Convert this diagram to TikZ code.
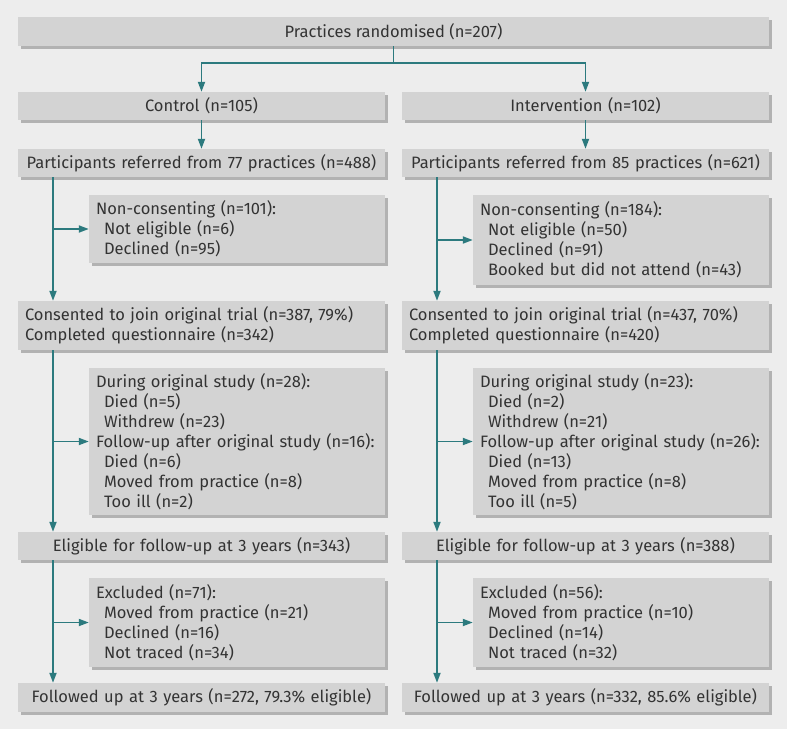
\documentclass[tikz,border=0pt]{standalone}
\usepackage{fontspec}
\setmainfont{Fira Sans}
\usetikzlibrary{arrows.meta,shadows}
\definecolor{bmjbg}{RGB}{237,237,237}
\definecolor{bmjbox}{RGB}{211,211,211}
\definecolor{bmjshade}{RGB}{178,178,178}
\definecolor{bmjteal}{RGB}{44,122,126}
\definecolor{bmjtext}{RGB}{51,51,51}
\newcommand{\ind}{\hspace*{8pt}}

\begin{document}
\begin{tikzpicture}[x=1pt,y=-1pt]
  \tikzstyle{box}=[fill=bmjbox,inner xsep=7pt,inner ysep=0pt,text=bmjtext,
    font=\fontsize{16.5}{20}\selectfont,
    drop shadow={fill=bmjshade,opacity=1,shadow xshift=2.5pt,shadow yshift=-2.5pt}]
  \tikzstyle{wide}=[box,minimum width=367pt,text width=353pt]
  \tikzstyle{side}=[box,minimum width=296pt,text width=282pt,align=left]
  \tikzstyle{f}=[-{Triangle[length=10pt,width=7pt]},bmjteal,line width=1.8pt]
  \tikzstyle{ln}=[bmjteal,line width=1.8pt]

  \fill[bmjbg] (0,0) rectangle (787,729);

  % -- randomisation --
  \node[box,minimum width=751pt,minimum height=29pt,align=center] (rand) at (393.5,31.5)
    {Practices randomised (n=207)};
  \coordinate (split) at (393.5,63);
  \draw[ln] (rand) -- (split);

  % -- Control arm --
  \node[wide,minimum height=28pt,align=center] (ctrl) at (201.5,106) {Control (n=105)};
  \node[wide,minimum height=28pt,align=center] (refC) at (201.5,163)
    {Participants referred from 77 practices (n=488)};
  \node[side,minimum height=68pt] (ncC) at (237,229)
    {Non-consenting (n=101):\\ \ind Not eligible (n=6)\\ \ind Declined (n=95)};
  \node[wide,minimum height=49pt,align=left] (conC) at (201.5,325.5)
    {Consented to join original trial (n=387, 79\%)\\ Completed questionnaire (n=342)};
  \node[side,minimum height=147pt] (durC) at (237,441.5)
    {During original study (n=28):\\ \ind Died (n=5)\\ \ind Withdrew (n=23)\\
     Follow-up after original study (n=16):\\ \ind Died (n=6)\\
     \ind Moved from practice (n=8)\\ \ind Too ill (n=2)};
  \node[wide,minimum height=28pt,align=center] (eliC) at (201.5,546)
    {Eligible for follow-up at 3 years (n=343)};
  \node[side,minimum height=89pt] (exC) at (237,622.5)
    {Excluded (n=71):\\ \ind Moved from practice (n=21)\\ \ind Declined (n=16)\\
     \ind Not traced (n=34)};
  \node[wide,minimum height=29pt,align=center] (folC) at (201.5,697.5)
    {Followed up at 3 years (n=272, 79.3\% eligible)};

  % -- Intervention arm --
  \node[wide,minimum height=28pt,align=center] (intv) at (585.5,106) {Intervention (n=102)};
  \node[wide,minimum height=28pt,align=center] (refI) at (585.5,163)
    {Participants referred from 85 practices (n=621)};
  \node[side,minimum height=90pt] (ncI) at (621,240)
    {Non-consenting (n=184):\\ \ind Not eligible (n=50)\\ \ind Declined (n=91)\\
     \ind Booked but did not attend (n=43)};
  \node[wide,minimum height=49pt,align=left] (conI) at (585.5,325.5)
    {Consented to join original trial (n=437, 70\%)\\ Completed questionnaire (n=420)};
  \node[side,minimum height=147pt] (durI) at (621,441.5)
    {During original study (n=23):\\ \ind Died (n=2)\\ \ind Withdrew (n=21)\\
     Follow-up after original study (n=26):\\ \ind Died (n=13)\\
     \ind Moved from practice (n=8)\\ \ind Too ill (n=5)};
  \node[wide,minimum height=28pt,align=center] (eliI) at (585.5,546)
    {Eligible for follow-up at 3 years (n=388)};
  \node[side,minimum height=89pt] (exI) at (621,622.5)
    {Excluded (n=56):\\ \ind Moved from practice (n=10)\\ \ind Declined (n=14)\\
     \ind Not traced (n=32)};
  \node[wide,minimum height=29pt,align=center] (folI) at (585.5,697.5)
    {Followed up at 3 years (n=332, 85.6\% eligible)};

  % -- arrows --
  \draw[f] (split) -| (ctrl);
  \draw[f] (split) -| (intv);
  \draw[f] (ctrl) -- (refC);
  \draw[f] (intv) -- (refI);

  \coordinate (tC) at (53,0);
  \coordinate (tI) at (437,0);
  \draw[f] (refC.south -| tC) -- (conC.north -| tC);
  \draw[f] (conC.south -| tC) -- (eliC.north -| tC);
  \draw[f] (eliC.south -| tC) -- (folC.north -| tC);
  \draw[f] (ncC.west -| tC) -- (ncC.west);
  \draw[f] (durC.west -| tC) -- (durC.west);
  \draw[f] (exC.west -| tC) -- (exC.west);

  \draw[f] (refI.south -| tI) -- (conI.north -| tI);
  \draw[f] (conI.south -| tI) -- (eliI.north -| tI);
  \draw[f] (eliI.south -| tI) -- (folI.north -| tI);
  \draw[f] (ncI.west -| tI) -- (ncI.west);
  \draw[f] (durI.west -| tI) -- (durI.west);
  \draw[f] (exI.west -| tI) -- (exI.west);
\end{tikzpicture}
\end{document}
